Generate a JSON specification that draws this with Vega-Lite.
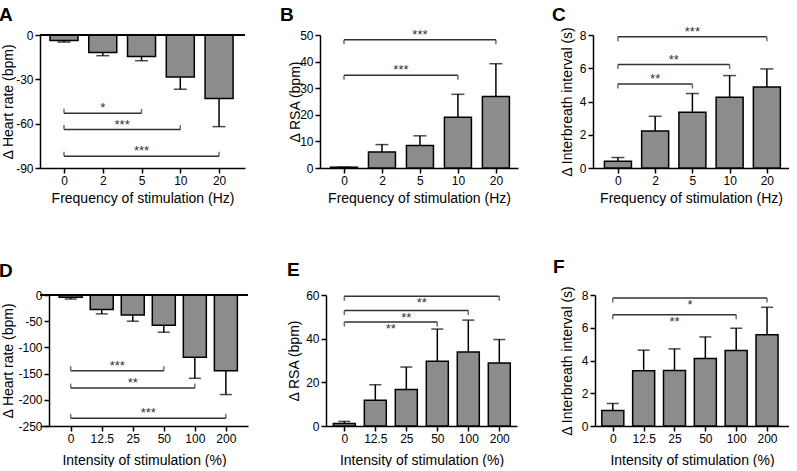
{
"$schema":"https://vega.github.io/schema/vega-lite/v6.json",
"background":"white",
"padding":{"left":-1,"top":5,"right":0,"bottom":0},
"datasets":{
"A":[{"i":0,"freq":"0","mean":-3.8,"err":-4.8},{"i":1,"freq":"2","mean":-11.8,"err":-14},{"i":2,"freq":"5","mean":-14.5,"err":-17.4},{"i":3,"freq":"10","mean":-28.5,"err":-36.7},{"i":4,"freq":"20","mean":-43,"err":-62}],
"A_sig":[{"i1":0,"i2":2,"mid":1,"y":-53,"label":"*"},{"i1":0,"i2":3,"mid":1.5,"y":-64,"label":"***"},{"i1":0,"i2":4,"mid":2,"y":-82,"label":"***"}],
"B":[{"i":0,"freq":"0","mean":0.3,"err":0.3},{"i":1,"freq":"2","mean":6,"err":8.8},{"i":2,"freq":"5","mean":8.5,"err":12.1},{"i":3,"freq":"10","mean":19.1,"err":27.7},{"i":4,"freq":"20","mean":26.9,"err":39.2}],
"B_sig":[{"i1":0,"i2":3,"mid":1.5,"y":34.9,"label":"***"},{"i1":0,"i2":4,"mid":2,"y":48.2,"label":"***"}],
"C":[{"i":0,"freq":"0","mean":0.4,"err":0.63},{"i":1,"freq":"2","mean":2.22,"err":3.11},{"i":2,"freq":"5","mean":3.35,"err":4.48},{"i":3,"freq":"10","mean":4.26,"err":5.56},{"i":4,"freq":"20","mean":4.87,"err":5.96}],
"C_sig":[{"i1":0,"i2":2,"mid":1,"y":5.05,"label":"**"},{"i1":0,"i2":3,"mid":1.5,"y":6.22,"label":"**"},{"i1":0,"i2":4,"mid":2,"y":7.9,"label":"***"}],
"D":[{"i":0,"pct":"0","mean":-4.5,"err":-7.7},{"i":1,"pct":"12.5","mean":-27.5,"err":-36},{"i":2,"pct":"25","mean":-38,"err":-50},{"i":3,"pct":"50","mean":-57.5,"err":-71},{"i":4,"pct":"100","mean":-119,"err":-159},{"i":5,"pct":"200","mean":-144.5,"err":-190}],
"D_sig":[{"i1":0,"i2":3,"mid":1.5,"y":-144.5,"label":"***"},{"i1":0,"i2":4,"mid":2,"y":-177.7,"label":"**"},{"i1":0,"i2":5,"mid":2.5,"y":-235.2,"label":"***"}],
"E":[{"i":0,"pct":"0","mean":1.1,"err":2.1},{"i":1,"pct":"12.5","mean":11.8,"err":18.9},{"i":2,"pct":"25","mean":16.7,"err":27},{"i":3,"pct":"50","mean":29.6,"err":44.4},{"i":4,"pct":"100","mean":33.9,"err":48.5},{"i":5,"pct":"200","mean":28.9,"err":39.6}],
"E_sig":[{"i1":0,"i2":3,"mid":1.5,"y":47.6,"label":"**"},{"i1":0,"i2":4,"mid":2,"y":52.9,"label":"**"},{"i1":0,"i2":5,"mid":2.5,"y":59.4,"label":"**"}],
"F":[{"i":0,"pct":"0","mean":0.95,"err":1.38},{"i":1,"pct":"12.5","mean":3.37,"err":4.63},{"i":2,"pct":"25","mean":3.39,"err":4.71},{"i":3,"pct":"50","mean":4.12,"err":5.44},{"i":4,"pct":"100","mean":4.61,"err":5.97},{"i":5,"pct":"200","mean":5.58,"err":7.25}],
"F_sig":[{"i1":0,"i2":4,"mid":2,"y":6.8,"label":"**"},{"i1":0,"i2":5,"mid":2.5,"y":7.81,"label":"*"}]
},
"spacing":52,
"bounds":"full",
"vconcat":[
{"hconcat":[
{"width":205,"height":133,"title":{"text":"A","dx":-41,"offset":4},
"resolve":{"axis":{"x":"independent","y":"independent"}},
"layer":[
{"data":{"name":"A"},"resolve":{"axis":{"x":"independent","y":"independent"}},"layer":[
{"mark":{"type":"rule","color":"black","strokeWidth":1.5},"encoding":{
"x":{"field":"i","type":"quantitative","scale":{"domain":[-0.49,4.54],"nice":false,"zero":false},"axis":{"values":[0,1,2,3,4],"labelExpr":"['0','2','5','10','20'][datum.value]","title":"Frequency of stimulation (Hz)","titleBaseline":"alphabetic","titleY":34.5,"labelAngle":0,"labelFlush":false,"labelOverlap":false}},
"y":{"field":"mean","type":"quantitative","scale":{"domain":[-90,0],"nice":false,"zero":false},"axis":{"values":[0,-30,-60,-90],"labelExpr":"datum.value + ''","labelOverlap":false,"title":"Δ Heart rate (bpm)","titleX":-28,"titleY":66.5,"titleBaseline":"alphabetic","titleAngle":-90,"titleAlign":"center"}},
"y2":{"field":"err"}}},
{"mark":{"type":"tick","orient":"horizontal","size":13,"thickness":1.5,"color":"black"},"encoding":{
"x":{"field":"i","type":"quantitative","axis":null},"y":{"field":"err","type":"quantitative","axis":null}}},
{"mark":{"type":"bar","orient":"vertical","size":28,"fill":"#8c8c8c","stroke":"black","strokeWidth":1.5},"encoding":{
"x":{"field":"i","type":"quantitative","axis":null},"y":{"field":"mean","type":"quantitative","axis":null},"y2":{"datum":0}}},
{"mark":{"type":"rule","color":"black","strokeWidth":1.5},"encoding":{"y":{"datum":0,"type":"quantitative","axis":null}}}
]},
{"data":{"name":"A_sig"},"resolve":{"axis":{"x":"independent","y":"independent"}},"layer":[
{"mark":{"type":"rule","color":"#333","strokeWidth":1.5},"encoding":{"x":{"field":"i1","type":"quantitative","axis":null},"x2":{"field":"i2"},"y":{"field":"y","type":"quantitative","axis":null}}},
{"mark":{"type":"tick","orient":"vertical","size":4.5,"thickness":1.5,"color":"#333","yOffset":-2.25},"encoding":{"x":{"field":"i1","type":"quantitative","axis":null},"y":{"field":"y","type":"quantitative","axis":null}}},
{"mark":{"type":"tick","orient":"vertical","size":4.5,"thickness":1.5,"color":"#333","yOffset":-2.25},"encoding":{"x":{"field":"i2","type":"quantitative","axis":null},"y":{"field":"y","type":"quantitative","axis":null}}},
{"mark":{"type":"text","fontSize":13,"color":"#333","baseline":"alphabetic","dy":-1},"encoding":{"x":{"field":"mid","type":"quantitative","axis":null},"y":{"field":"y","type":"quantitative","axis":null},"text":{"field":"label"}}}
]}
]},
{"width":198,"height":133,"title":{"text":"B","dx":-40,"offset":4},
"resolve":{"axis":{"x":"independent","y":"independent"}},
"layer":[
{"data":{"name":"B"},"resolve":{"axis":{"x":"independent","y":"independent"}},"layer":[
{"mark":{"type":"rule","color":"black","strokeWidth":1.5},"encoding":{
"x":{"field":"i","type":"quantitative","scale":{"domain":[-0.5,4.45],"nice":false,"zero":false},"axis":{"values":[0,1,2,3,4],"labelExpr":"['0','2','5','10','20'][datum.value]","title":"Frequency of stimulation (Hz)","titleBaseline":"alphabetic","titleY":34.5,"labelAngle":0,"labelFlush":false,"labelOverlap":false}},
"y":{"field":"mean","type":"quantitative","scale":{"domain":[0,50],"nice":false,"zero":false},"axis":{"values":[0,10,20,30,40,50],"labelExpr":"datum.value + ''","labelOverlap":false,"title":"Δ RSA (bpm)","titleX":-21,"titleY":66.5,"titleBaseline":"alphabetic","titleAngle":-90,"titleAlign":"center"}},
"y2":{"field":"err"}}},
{"mark":{"type":"tick","orient":"horizontal","size":13,"thickness":1.5,"color":"black"},"encoding":{
"x":{"field":"i","type":"quantitative","axis":null},"y":{"field":"err","type":"quantitative","axis":null}}},
{"mark":{"type":"bar","orient":"vertical","size":27,"fill":"#8c8c8c","stroke":"black","strokeWidth":1.5},"encoding":{
"x":{"field":"i","type":"quantitative","axis":null},"y":{"field":"mean","type":"quantitative","axis":null},"y2":{"datum":0}}}
]},
{"data":{"name":"B_sig"},"resolve":{"axis":{"x":"independent","y":"independent"}},"layer":[
{"mark":{"type":"rule","color":"#333","strokeWidth":1.5},"encoding":{"x":{"field":"i1","type":"quantitative","axis":null},"x2":{"field":"i2"},"y":{"field":"y","type":"quantitative","axis":null}}},
{"mark":{"type":"tick","orient":"vertical","size":4.5,"thickness":1.5,"color":"#333","yOffset":2.25},"encoding":{"x":{"field":"i1","type":"quantitative","axis":null},"y":{"field":"y","type":"quantitative","axis":null}}},
{"mark":{"type":"tick","orient":"vertical","size":4.5,"thickness":1.5,"color":"#333","yOffset":2.25},"encoding":{"x":{"field":"i2","type":"quantitative","axis":null},"y":{"field":"y","type":"quantitative","axis":null}}},
{"mark":{"type":"text","fontSize":13,"color":"#333","baseline":"alphabetic","dy":-1},"encoding":{"x":{"field":"mid","type":"quantitative","axis":null},"y":{"field":"y","type":"quantitative","axis":null},"text":{"field":"label"}}}
]}
]},
{"width":196,"height":133,"title":{"text":"C","dx":-41,"offset":1},
"resolve":{"axis":{"x":"independent","y":"independent"}},
"layer":[
{"data":{"name":"C"},"resolve":{"axis":{"x":"independent","y":"independent"}},"layer":[
{"mark":{"type":"rule","color":"black","strokeWidth":1.5},"encoding":{
"x":{"field":"i","type":"quantitative","scale":{"domain":[-0.535,4.46],"nice":false,"zero":false},"axis":{"values":[0,1,2,3,4],"labelExpr":"['0','2','5','10','20'][datum.value]","title":"Frequency of stimulation (Hz)","titleBaseline":"alphabetic","titleY":34.5,"labelAngle":0,"labelFlush":false,"labelOverlap":false}},
"y":{"field":"mean","type":"quantitative","scale":{"domain":[0,8],"nice":false,"zero":false},"axis":{"values":[0,2,4,6,8],"labelExpr":"datum.value + ''","labelOverlap":false,"title":"Δ Interbreath interval (s)","titleX":-22,"titleY":66.5,"titleBaseline":"alphabetic","titleAngle":-90,"titleAlign":"center"}},
"y2":{"field":"err"}}},
{"mark":{"type":"tick","orient":"horizontal","size":13,"thickness":1.5,"color":"black"},"encoding":{
"x":{"field":"i","type":"quantitative","axis":null},"y":{"field":"err","type":"quantitative","axis":null}}},
{"mark":{"type":"bar","orient":"vertical","size":27,"fill":"#8c8c8c","stroke":"black","strokeWidth":1.5},"encoding":{
"x":{"field":"i","type":"quantitative","axis":null},"y":{"field":"mean","type":"quantitative","axis":null},"y2":{"datum":0}}}
]},
{"data":{"name":"C_sig"},"resolve":{"axis":{"x":"independent","y":"independent"}},"layer":[
{"mark":{"type":"rule","color":"#333","strokeWidth":1.5},"encoding":{"x":{"field":"i1","type":"quantitative","axis":null},"x2":{"field":"i2"},"y":{"field":"y","type":"quantitative","axis":null}}},
{"mark":{"type":"tick","orient":"vertical","size":4.5,"thickness":1.5,"color":"#333","yOffset":2.25},"encoding":{"x":{"field":"i1","type":"quantitative","axis":null},"y":{"field":"y","type":"quantitative","axis":null}}},
{"mark":{"type":"tick","orient":"vertical","size":4.5,"thickness":1.5,"color":"#333","yOffset":2.25},"encoding":{"x":{"field":"i2","type":"quantitative","axis":null},"y":{"field":"y","type":"quantitative","axis":null}}},
{"mark":{"type":"text","fontSize":13,"color":"#333","baseline":"alphabetic","dy":-1},"encoding":{"x":{"field":"mid","type":"quantitative","axis":null},"y":{"field":"y","type":"quantitative","axis":null},"text":{"field":"label"}}}
]}
]}
],"spacing":75,"bounds":"flush"},
{"hconcat":[
{"width":208,"height":131,"title":{"text":"D","dx":-41,"offset":8},
"resolve":{"axis":{"x":"independent","y":"independent"}},
"layer":[
{"data":{"name":"D"},"resolve":{"axis":{"x":"independent","y":"independent"}},"layer":[
{"mark":{"type":"rule","color":"black","strokeWidth":1.5},"encoding":{
"x":{"field":"i","type":"quantitative","scale":{"domain":[-0.828,5.552],"nice":false,"zero":false},"axis":{"values":[0,1,2,3,4,5],"labelExpr":"['0','12.5','25','50','100','200'][datum.value]","title":"Intensity of stimulation (%)","titleBaseline":"alphabetic","titleY":38,"labelAngle":0,"labelFlush":false,"labelOverlap":false}},
"y":{"field":"mean","type":"quantitative","scale":{"domain":[-250,0],"nice":false,"zero":false},"axis":{"offset":-9,"values":[0,-50,-100,-150,-200,-250],"labelExpr":"datum.value + ''","labelOverlap":false,"title":"Δ Heart rate (bpm)","titleX":-37,"titleY":65.5,"titleBaseline":"alphabetic","titleAngle":-90,"titleAlign":"center"}},
"y2":{"field":"err"}}},
{"mark":{"type":"tick","orient":"horizontal","size":12,"thickness":1.5,"color":"black"},"encoding":{
"x":{"field":"i","type":"quantitative","axis":null},"y":{"field":"err","type":"quantitative","axis":null}}},
{"mark":{"type":"bar","orient":"vertical","size":23,"fill":"#8c8c8c","stroke":"black","strokeWidth":1.5},"encoding":{
"x":{"field":"i","type":"quantitative","axis":null},"y":{"field":"mean","type":"quantitative","axis":null},"y2":{"datum":0}}},
{"mark":{"type":"rule","color":"black","strokeWidth":1.5},"encoding":{"y":{"datum":0,"type":"quantitative","axis":null}}}
]},
{"data":{"name":"D_sig"},"resolve":{"axis":{"x":"independent","y":"independent"}},"layer":[
{"mark":{"type":"rule","color":"#333","strokeWidth":1.5},"encoding":{"x":{"field":"i1","type":"quantitative","axis":null},"x2":{"field":"i2"},"y":{"field":"y","type":"quantitative","axis":null}}},
{"mark":{"type":"tick","orient":"vertical","size":4.5,"thickness":1.5,"color":"#333","yOffset":-2.25},"encoding":{"x":{"field":"i1","type":"quantitative","axis":null},"y":{"field":"y","type":"quantitative","axis":null}}},
{"mark":{"type":"tick","orient":"vertical","size":4.5,"thickness":1.5,"color":"#333","yOffset":-2.25},"encoding":{"x":{"field":"i2","type":"quantitative","axis":null},"y":{"field":"y","type":"quantitative","axis":null}}},
{"mark":{"type":"text","fontSize":13,"color":"#333","baseline":"alphabetic","dy":-1},"encoding":{"x":{"field":"mid","type":"quantitative","axis":null},"y":{"field":"y","type":"quantitative","axis":null},"text":{"field":"label"}}}
]}
]},
{"width":191,"height":131,"title":{"text":"E","dx":-39,"offset":9},
"resolve":{"axis":{"x":"independent","y":"independent"}},
"layer":[
{"data":{"name":"E"},"resolve":{"axis":{"x":"independent","y":"independent"}},"layer":[
{"mark":{"type":"rule","color":"black","strokeWidth":1.5},"encoding":{
"x":{"field":"i","type":"quantitative","scale":{"domain":[-0.43,5.41],"nice":false,"zero":false},"axis":{"values":[0,1,2,3,4,5],"labelExpr":"['0','12.5','25','50','100','200'][datum.value]","title":"Intensity of stimulation (%)","titleBaseline":"alphabetic","titleY":38,"labelAngle":0,"labelFlush":false,"labelOverlap":false}},
"y":{"field":"mean","type":"quantitative","scale":{"domain":[0,60],"nice":false,"zero":false},"axis":{"values":[0,20,40,60],"labelExpr":"datum.value + ''","labelOverlap":false,"title":"Δ RSA (bpm)","titleX":-28,"titleY":65.5,"titleBaseline":"alphabetic","titleAngle":-90,"titleAlign":"center"}},
"y2":{"field":"err"}}},
{"mark":{"type":"tick","orient":"horizontal","size":12,"thickness":1.5,"color":"black"},"encoding":{
"x":{"field":"i","type":"quantitative","axis":null},"y":{"field":"err","type":"quantitative","axis":null}}},
{"mark":{"type":"bar","orient":"vertical","size":22,"fill":"#8c8c8c","stroke":"black","strokeWidth":1.5},"encoding":{
"x":{"field":"i","type":"quantitative","axis":null},"y":{"field":"mean","type":"quantitative","axis":null},"y2":{"datum":0}}}
]},
{"data":{"name":"E_sig"},"resolve":{"axis":{"x":"independent","y":"independent"}},"layer":[
{"mark":{"type":"rule","color":"#333","strokeWidth":1.5},"encoding":{"x":{"field":"i1","type":"quantitative","axis":null},"x2":{"field":"i2"},"y":{"field":"y","type":"quantitative","axis":null}}},
{"mark":{"type":"tick","orient":"vertical","size":4.5,"thickness":1.5,"color":"#333","yOffset":2.25},"encoding":{"x":{"field":"i1","type":"quantitative","axis":null},"y":{"field":"y","type":"quantitative","axis":null}}},
{"mark":{"type":"tick","orient":"vertical","size":4.5,"thickness":1.5,"color":"#333","yOffset":2.25},"encoding":{"x":{"field":"i2","type":"quantitative","axis":null},"y":{"field":"y","type":"quantitative","axis":null}}},
{"mark":{"type":"text","fontSize":13,"color":"#333","baseline":"alphabetic","dy":11},"encoding":{"x":{"field":"mid","type":"quantitative","axis":null},"y":{"field":"y","type":"quantitative","axis":null},"text":{"field":"label"}}}
]}
]},
{"width":194,"height":131,"title":{"text":"F","dx":-42,"offset":8},
"resolve":{"axis":{"x":"independent","y":"independent"}},
"layer":[
{"data":{"name":"F"},"resolve":{"axis":{"x":"independent","y":"independent"}},"layer":[
{"mark":{"type":"rule","color":"black","strokeWidth":1.5},"encoding":{
"x":{"field":"i","type":"quantitative","scale":{"domain":[-0.415,5.55],"nice":false,"zero":false},"axis":{"values":[0,1,2,3,4,5],"labelExpr":"['0','12.5','25','50','100','200'][datum.value]","title":"Intensity of stimulation (%)","titleBaseline":"alphabetic","titleY":38,"labelAngle":0,"labelFlush":false,"labelOverlap":false}},
"y":{"field":"mean","type":"quantitative","scale":{"domain":[0,8],"nice":false,"zero":false},"axis":{"values":[0,2,4,6,8],"labelExpr":"datum.value + ''","labelOverlap":false,"title":"Δ Interbreath interval (s)","titleX":-24,"titleY":65.5,"titleBaseline":"alphabetic","titleAngle":-90,"titleAlign":"center"}},
"y2":{"field":"err"}}},
{"mark":{"type":"tick","orient":"horizontal","size":12,"thickness":1.5,"color":"black"},"encoding":{
"x":{"field":"i","type":"quantitative","axis":null},"y":{"field":"err","type":"quantitative","axis":null}}},
{"mark":{"type":"bar","orient":"vertical","size":22,"fill":"#8c8c8c","stroke":"black","strokeWidth":1.5},"encoding":{
"x":{"field":"i","type":"quantitative","axis":null},"y":{"field":"mean","type":"quantitative","axis":null},"y2":{"datum":0}}}
]},
{"data":{"name":"F_sig"},"resolve":{"axis":{"x":"independent","y":"independent"}},"layer":[
{"mark":{"type":"rule","color":"#333","strokeWidth":1.5},"encoding":{"x":{"field":"i1","type":"quantitative","axis":null},"x2":{"field":"i2"},"y":{"field":"y","type":"quantitative","axis":null}}},
{"mark":{"type":"tick","orient":"vertical","size":4.5,"thickness":1.5,"color":"#333","yOffset":2.25},"encoding":{"x":{"field":"i1","type":"quantitative","axis":null},"y":{"field":"y","type":"quantitative","axis":null}}},
{"mark":{"type":"tick","orient":"vertical","size":4.5,"thickness":1.5,"color":"#333","yOffset":2.25},"encoding":{"x":{"field":"i2","type":"quantitative","axis":null},"y":{"field":"y","type":"quantitative","axis":null}}},
{"mark":{"type":"text","fontSize":13,"color":"#333","baseline":"alphabetic","dy":11},"encoding":{"x":{"field":"mid","type":"quantitative","axis":null},"y":{"field":"y","type":"quantitative","axis":null},"text":{"field":"label"}}}
]}
]}
],"spacing":78,"bounds":"flush"}
],
"config":{
"view":{"stroke":null},
"font":"Liberation Sans",
"axis":{"domainColor":"black","domainWidth":1.5,"tickColor":"black","tickWidth":1.5,"tickSize":5,"labelColor":"black","labelFontSize":12,"labelFont":"Liberation Sans","labelPadding":2,"titleFont":"Liberation Sans","titleFontSize":14,"titleFontWeight":"normal","titleColor":"black","grid":false},
"title":{"font":"Liberation Sans","fontSize":19,"fontWeight":"bold","anchor":"start","frame":"group","baseline":"alphabetic","color":"black"},
"text":{"font":"Liberation Sans"}
}
}
